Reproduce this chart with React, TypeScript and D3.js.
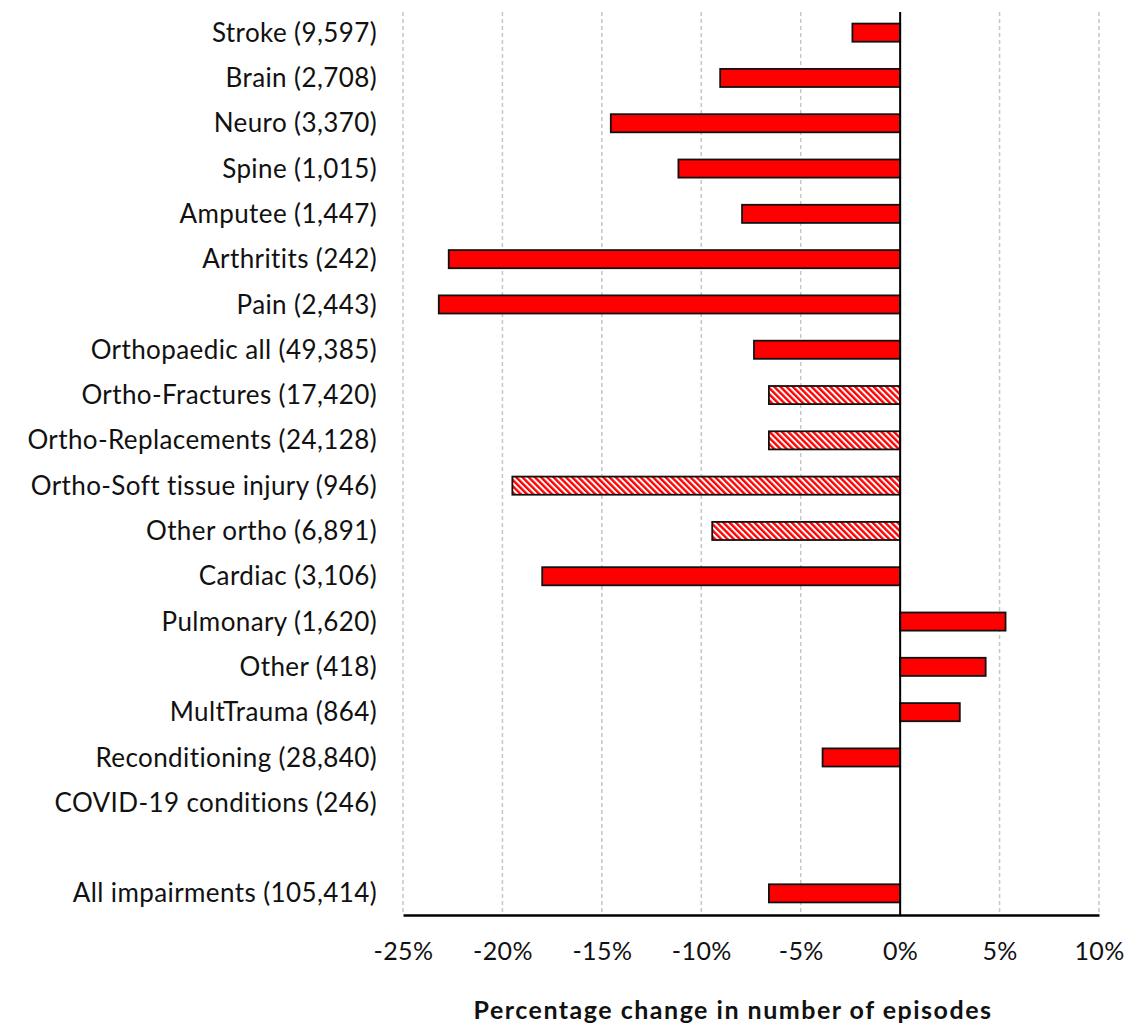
import React, { useRef, useEffect } from "react";
import * as d3 from "d3";

// categories top to bottom ("" = spacer row)
const categories = [
  "Stroke (9,597)",
  "Brain (2,708)",
  "Neuro (3,370)",
  "Spine (1,015)",
  "Amputee (1,447)",
  "Arthritits (242)",
  "Pain (2,443)",
  "Orthopaedic all (49,385)",
  "Ortho-Fractures (17,420)",
  "Ortho-Replacements (24,128)",
  "Ortho-Soft tissue injury (946)",
  "Other ortho (6,891)",
  "Cardiac (3,106)",
  "Pulmonary (1,620)",
  "Other (418)",
  "MultTrauma (864)",
  "Reconditioning (28,840)",
  "COVID-19 conditions (246)",
  "",
  "All impairments (105,414)",
];

// percentage change, null = no bar
const changes = [
  -2.4, -9.05, -14.55, -11.15, -7.95, -22.7, -23.2, -7.35, -6.6, -6.6, -19.5,
  -9.45, -18.0, 5.3, 4.3, 3.0, -3.9, null, null, -6.6,
];

// sub-groups of orthopaedic drawn hatched
const hatched = [
  "Ortho-Fractures (17,420)",
  "Ortho-Replacements (24,128)",
  "Ortho-Soft tissue injury (946)",
  "Other ortho (6,891)",
];

const xTicks = [-25, -20, -15, -10, -5, 0, 5, 10];
const xTitle = "Percentage change in number of episodes";

const FONT = "Lato, 'DejaVu Sans', sans-serif";

function App() {
  const svgRef = useRef(null);

  useEffect(() => {
    const width = 1126;
    const height = 1024;

    const svg = d3.select(svgRef.current);
    svg.selectAll("*").remove();
    svg.attr("width", width).attr("height", height);

    const rows = categories.map((c, i) => ({ key: i, label: c, value: changes[i] }));

    /* ---------- hatch pattern ---------- */
    const defs = svg.append("defs");
    const pat = defs
      .append("pattern")
      .attr("id", "hatch")
      .attr("patternUnits", "userSpaceOnUse")
      .attr("width", 4.4)
      .attr("height", 4.4)
      .attr("patternTransform", "rotate(-45)");
    pat.append("rect").attr("width", 4.4).attr("height", 4.4).attr("fill", "#ffffff");
    pat.append("rect").attr("width", 2.4).attr("height", 4.4).attr("fill", "#ff0000");

    /* ---------- scales ---------- */
    const x = d3.scaleLinear().domain([-25, 10]).range([403, 1099]);
    const y = d3
      .scaleBand()
      .domain(rows.map((d) => String(d.key)))
      .range([10, 916])
      .paddingInner(0.6)
      .paddingOuter(0.3);

    /* ---------- grid ---------- */
    svg
      .append("g")
      .selectAll("line")
      .data(xTicks.filter((t) => t !== 0))
      .enter()
      .append("line")
      .attr("x1", (d) => x(d))
      .attr("x2", (d) => x(d))
      .attr("y1", 12)
      .attr("y2", 915)
      .attr("stroke", "#c6c6c6")
      .attr("stroke-width", 1.5)
      .attr("stroke-dasharray", "4 3");

    /* ---------- bars ---------- */
    svg
      .append("g")
      .selectAll("rect")
      .data(rows.filter((d) => d.value !== null))
      .enter()
      .append("rect")
      .attr("x", (d) => x(Math.min(0, d.value)))
      .attr("width", (d) => Math.abs(x(d.value) - x(0)))
      .attr("y", (d) => y(String(d.key)))
      .attr("height", y.bandwidth())
      .attr("fill", (d) => (hatched.includes(d.label) ? "url(#hatch)" : "#ff0000"))
      .attr("stroke", "#111")
      .attr("stroke-width", 1.8);

    /* ---------- zero line ---------- */
    svg
      .append("line")
      .attr("x1", x(0))
      .attr("x2", x(0))
      .attr("y1", 12)
      .attr("y2", 915)
      .attr("stroke", "#000")
      .attr("stroke-width", 2);

    /* ---------- x axis ---------- */
    const xAxis = svg
      .append("g")
      .attr("transform", "translate(0,915)")
      .call(
        d3
          .axisBottom(x)
          .tickValues(xTicks)
          .tickSize(0)
          .tickPadding(27)
          .tickFormat((d) => `${d}%`)
      );
    xAxis.select(".domain").attr("stroke", "#000").attr("stroke-width", 2.5);
    xAxis
      .selectAll("text")
      .attr("fill", "#111")
      .style("font-family", FONT)
      .style("font-size", "25px")
      .style("letter-spacing", "0.4px");

    /* ---------- category labels ---------- */
    svg
      .append("g")
      .selectAll("text")
      .data(rows)
      .enter()
      .append("text")
      .attr("x", 377)
      .attr("y", (d) => y(String(d.key)) + y.bandwidth() / 2)
      .attr("dy", "0.35em")
      .attr("text-anchor", "end")
      .attr("fill", "#111")
      .style("font-family", FONT)
      .style("font-size", "26px")
      .style("letter-spacing", "0.4px")
      .text((d) => d.label);

    /* ---------- axis title ---------- */
    svg
      .append("text")
      .attr("x", 733)
      .attr("y", 1019)
      .attr("text-anchor", "middle")
      .attr("fill", "#111")
      .style("font-family", FONT)
      .style("font-size", "25px")
      .style("font-weight", "bold")
      .style("letter-spacing", "1.5px")
      .text(xTitle);
  }, []);

  return (
    <div style={{ position: "absolute", left: 0, top: 0, background: "#fff" }}>
      <svg ref={svgRef}></svg>
    </div>
  );
}

export default App;
